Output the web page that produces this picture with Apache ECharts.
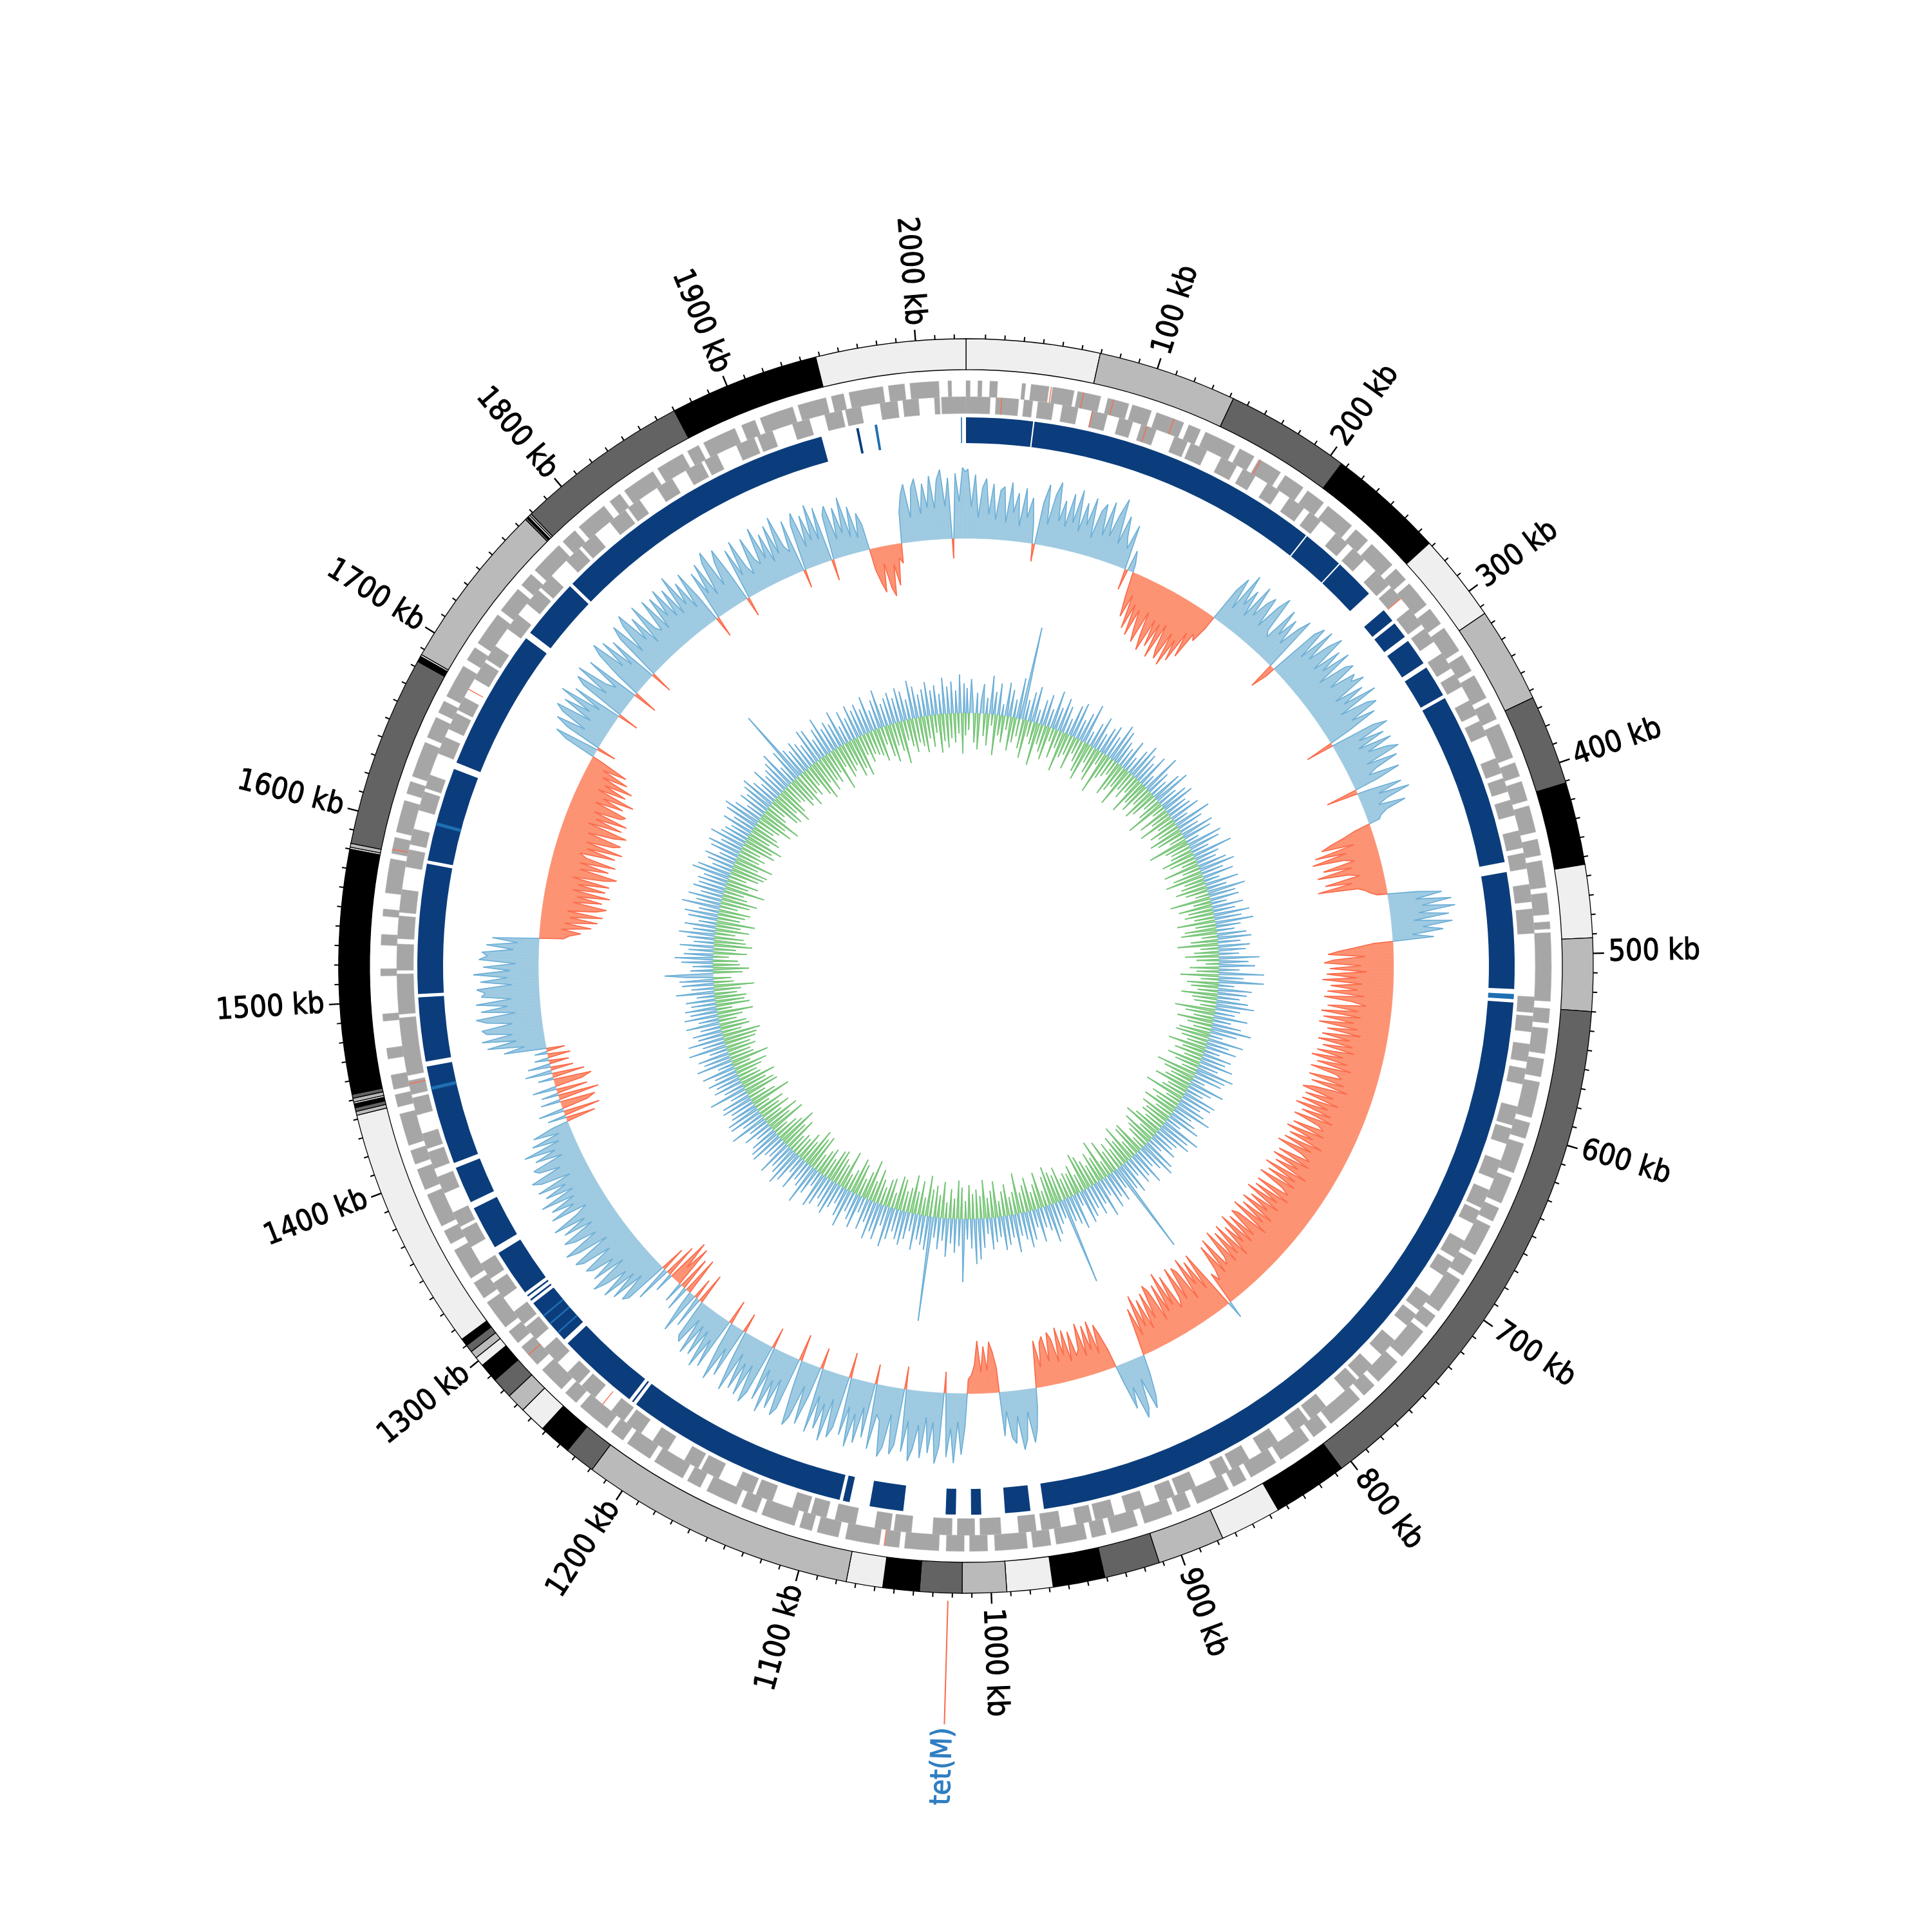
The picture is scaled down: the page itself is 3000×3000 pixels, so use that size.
<!DOCTYPE html>
<html>
<head>
<meta charset="utf-8">
<script src="https://cdn.jsdelivr.net/npm/echarts@6/dist/echarts.min.js"></script>
<style>html,body{margin:0;padding:0;background:#fff}#c{width:3000px;height:3000px}</style>
</head>
<body>
<div id="c"></div>
<script>
// ---------------- DATA ----------------
const GENOME_KB = 2026;
const TICK_KB = [100,200,300,400,500,600,700,800,900,1000,1100,1200,1300,1400,1500,1600,1700,1800,1900,2000];
const TICK_LABELS = ['100 kb','200 kb','300 kb','400 kb','500 kb','600 kb','700 kb','800 kb','900 kb','1000 kb','1100 kb','1200 kb','1300 kb','1400 kb','1500 kb','1600 kb','1700 kb','1800 kb','1900 kb','2000 kb'];
// contig boundaries (kb); contigs shaded in cycling order
const CONTIG_EDGES = [0,69.6,142,207,268,314,364,411,454,492,530,806,845,877,912,941,968,992,1015,1037,1056,1075,1219,1235,1252,1266,1276,1287,1297,1302,1306,1310,1314,1442,1444,1446,1448,1449,1451,1453,1580,1581,1583,1683,1686,1687,1775,1776,1777,1778,1779,1870,1948,2026];
// CDS clusters, forward strand (outer row) and reverse strand (inner row), kb
const GENES_FWD = [[0,2.3],[6.6,8.9],[13.2,17.5],[31,33],[36,46],[48,60],[62,75],[79,91],[93,104],[107,123],[126,133],[136,154],[157,166],[169,183],[186,198],[201,212],[215,232],[235,244],[247,263],[266,274],[277,292],[295,305],[308,323],[326,336],[339,353],[356,366],[369,389],[392,400],[403,414],[417,432],[436,445],[448,463],[466,478],[482,486],[488,526],[530,538],[541,555],[558,568],[571,591],[594,603],[606,623],[626,641],[644,652],[655,673],[676,686],[689,710],[713,721],[724,742],[746,761],[764,772],[775,796],[799,808],[811,830],[833,849],[852,860],[863,882],[886,894],[897,913],[917,932],[935,943],[946,963],[966,976],[979,997],[1001,1011],[1014,1024],[1028,1047],[1050,1058],[1061,1080],[1084,1096],[1099,1106],[1109,1128],[1131,1140],[1143,1161],[1165,1173],[1176,1194],[1197,1212],[1215,1223],[1226,1245],[1248,1256],[1259,1274],[1278,1291],[1294,1302],[1305,1322],[1325,1335],[1338,1356],[1360,1368],[1371,1390],[1393,1405],[1408,1416],[1419,1437],[1441,1448],[1451,1459],[1468,1474],[1489,1493],[1514,1518],[1531,1537],[1547,1551],[1560,1579],[1582,1591],[1594,1612],[1616,1623],[1626,1646],[1649,1661],[1664,1671],[1674,1693],[1697,1705],[1708,1727],[1730,1745],[1748,1756],[1759,1778],[1781,1790],[1793,1811],[1815,1822],[1825,1844],[1847,1863],[1866,1873],[1876,1895],[1899,1907],[1910,1929],[1932,1948],[1951,1958],[1961,1980],[1983,1992],[1995,2011],[2016,2018]];
const GENES_REV = [[2012,2026],[0,13.8],[17,30],[33,38],[41,50],[55,64],[72,81],[88,96],[101,110],[121,129],[131,141],[150,160],[164,172],[180,188],[195,205],[209,217],[228,237],[241,250],[259,270],[272,280],[288,299],[302,311],[319,329],[333,341],[350,359],[363,372],[386,395],[398,406],[411,420],[429,439],[442,451],[460,470],[474,488],[524,533],[535,544],[551,561],[565,574],[587,598],[600,609],[619,630],[637,648],[650,658],[669,680],[683,692],[706,716],[719,727],[738,749],[757,767],[769,778],[792,803],[805,815],[826,837],[845,856],[858,866],[879,890],[892,901],[910,921],[928,939],[941,950],[959,970],[973,983],[993,1005],[1008,1018],[1021,1032],[1044,1054],[1056,1065],[1076,1088],[1093,1102],[1104,1113],[1125,1135],[1137,1147],[1158,1169],[1171,1180],[1191,1201],[1209,1219],[1221,1230],[1242,1252],[1254,1263],[1271,1282],[1289,1298],[1300,1309],[1319,1329],[1332,1342],[1353,1364],[1366,1375],[1387,1397],[1402,1412],[1414,1423],[1434,1444],[1446,1454],[1457,1490],[1492,1515],[1517,1532],[1535,1548],[1550,1563],[1576,1586],[1589,1598],[1609,1620],[1622,1630],[1643,1653],[1658,1668],[1670,1678],[1690,1701],[1703,1712],[1724,1734],[1742,1752],[1754,1763],[1775,1785],[1787,1797],[1808,1819],[1821,1829],[1841,1851],[1860,1870],[1872,1880],[1892,1903],[1905,1914],[1926,1936],[1945,1955],[1957,1966],[1977,1987],[1990,1999],[2008,2011]];
// tRNA / rRNA marks (kb)
const RNA_FWD = [47,65,82,117,170,1058,1285,1584];
const RNA_REV = [20,72,104,280,1236,1452,1683];
// sequence-similarity hits ring (kb)
const HITS_STRONG = [[0,39.6],[40.4,215.5],[216.3,241],[241.8,266],[279,287],[289,299],[302,318],[321,340],[342,445],[451,520],[528,967],[975,990],[1004,1010],[1019,1025],[1050,1070],[1082,1086],[1088,1221],[1223,1224],[1226,1275],[1278,1306],[1308,1309],[1311,1312],[1314,1342],[1346,1372],[1376,1398],[1401,1460],[1463,1501],[1503,1580],[1582,1638],[1642,1726],[1730,1766],[1768,1940],[1961,1962.5]];
const HITS_WEAK = [[523,526],[1283,1284],[1290,1291],[1296,1297],[1446,1448],[1603,1605],[1972,1973.5],[2023,2023.6]];
// GC skew, 2.5 kb windows (relative units, +/-100 = max)
const GC_SKEW = [
98,45,90,30,72,85,35,78,28,70,
75,25,82,40,68,22,76,35,64,30,
-25,60,86,30,74,92,38,68,32,80,
40,88,30,72,42,82,26,66,78,34,
84,36,70,94,30,72,44,28,64,-30,
30,12,-35,-64,-30,-78,-40,-85,-45,-72,
-90,-42,-78,-97,-48,-86,-50,-99,-46,-82,
-95,-52,-100,-58,-88,-40,-76,-36,-44,-20,
50,72,26,84,40,66,28,80,36,62,
74,30,68,86,34,26,78,40,70,32,
64,82,-38,-15,76,90,40,94,46,80,
98,42,84,50,92,36,78,88,44,82,
72,90,38,80,46,94,34,74,86,42,
76,32,-40,64,84,36,72,30,78,40,
68,82,30,74,40,26,70,34,-45,20,
64,28,72,36,22,60,30,20,16,-22,
-40,-62,-76,-30,-88,-44,-94,-50,-36,-82,
-42,-92,-48,-34,-84,-46,-96,-40,-30,-24,
-15,42,76,38,88,46,92,40,82,32,
86,44,72,28,58,-28,-52,-76,-92,-40,
-84,-98,-46,-90,-38,-94,-52,-100,-44,-88,
-50,-92,-40,-96,-56,-36,-90,-46,-98,-42,
-94,-50,-99,-44,-86,-38,-92,-52,-96,-46,
-88,-42,-94,-56,-100,-48,-90,-40,-97,-58,
-50,-96,-44,-90,-36,-84,-99,-52,-92,-42,
-94,-54,-100,-46,-88,-40,-96,-58,-48,-92,
-44,-98,-56,-90,-38,-94,-50,-100,-60,-46,
-92,-42,-96,-54,-88,-36,-99,-48,-90,-44,
-98,-58,-46,-94,-40,-92,-52,-100,-44,-88,
-56,-96,-42,-90,-50,-99,-38,-86,-94,-48,
-90,-44,-98,-52,-84,-36,-94,-46,-88,-40,
-96,-54,-44,-92,-38,-86,-50,-34,-48,25,
-42,-90,-36,-84,-50,-94,-32,-80,-88,-40,
-92,-46,-34,-86,-44,-96,-38,-82,-30,-78,
-88,-40,-80,-28,-74,-36,-84,-26,-68,-22,
28,60,76,30,70,84,36,66,26,-25,
-50,-66,-26,-74,-34,-70,-28,-76,-40,-32,
-68,-26,-72,-38,-78,-30,-64,-74,-34,-70,
-62,-28,-66,-22,28,58,76,32,70,84,
36,74,66,28,62,-35,-58,-72,-32,-66,
-30,-74,-40,-26,-20,48,86,40,98,50,
90,-30,76,100,42,86,36,94,48,82,
100,44,88,-32,80,94,38,86,100,50,
42,92,-28,78,36,88,48,96,40,82,
-36,74,90,36,98,46,84,38,92,-30,
44,86,32,80,94,40,-38,76,88,36,
82,42,92,30,78,-30,72,90,36,84,
38,80,28,88,44,-28,74,34,86,40,
-35,76,36,82,28,70,26,74,22,64,
56,-44,46,-30,62,20,-54,36,-48,30,
-60,-24,-64,28,-48,52,-36,64,72,30,
78,36,86,42,74,92,34,82,44,76,
84,38,80,90,32,76,94,40,72,86,
36,78,42,88,48,30,82,44,76,38,
86,34,74,40,80,28,70,82,36,66,
72,26,64,32,76,22,60,18,54,24,
-42,26,-52,36,-38,-50,28,-58,24,-44,
34,-40,-54,22,-46,38,-32,32,-28,20,
-32,18,-26,60,30,82,40,88,44,80,
86,42,78,92,36,84,46,90,40,82,
76,88,38,82,44,92,40,78,32,84,
72,80,36,74,30,66,-34,-42,-58,-30,
-72,-34,-80,-40,-86,-36,-76,-90,-42,-82,
-46,-92,-38,-84,-44,-88,-34,-80,-96,-42,
-82,-40,-90,-46,-36,-86,-44,-94,-40,-78,
-88,-38,-76,-92,-34,-82,-42,-86,-36,-74,
-80,-32,-72,-40,-84,-28,-68,-34,-74,-26,
-62,-22,-56,-18,46,64,-28,52,72,30,
70,82,30,76,38,88,28,72,-30,66,
80,34,86,42,28,78,-35,36,74,90,
40,82,32,72,-32,68,86,34,78,92,
42,76,28,88,44,36,84,32,80,46,
86,38,78,34,92,42,74,30,82,40,
-30,72,36,80,28,76,90,34,68,84,
38,-28,74,32,82,40,26,78,44,34,
86,38,72,28,80,36,88,42,32,76,
-26,66,82,30,74,36,86,34,78,-30,
64,76,26,70,32,82,24,66,20,54,
36,-30,-50,-64,-24,-60,-72,-28,-58,-20,
-28,44,68,82,34,76,88,38,80,46,
90,44,84,98,46,86,-28,92,52,100,
94];
// GC content deviation from mean, 2.5 kb windows (0.1 % units)
const GC_DEV = [
22,-15,30,8,-26,18,-32,12,26,-20,
14,-28,34,-10,20,-36,28,-18,10,-24,
30,-12,24,-30,16,-22,36,-16,83,-26,
18,-34,26,-14,32,-20,12,-38,22,-18,
28,-24,16,-30,34,-12,20,-26,30,-16,
24,-36,14,-22,28,-18,32,-30,18,-14,
26,-20,36,-28,12,-34,22,-16,30,-24,
16,-30,24,-12,28,-38,20,-22,34,-18,
30,-14,22,-32,18,-26,28,-20,14,-36,
24,-18,32,-24,26,-16,20,-34,30,-22,
12,-28,36,-18,22,-30,16,-24,28,-14,
34,-22,18,-36,26,-12,30,-28,20,-18,
22,-32,28,-16,14,-26,34,-20,24,-30,
18,-24,30,-14,26,-36,12,-22,32,-18,
28,-20,16,-30,36,-24,22,-14,18,-32,
26,-16,32,-26,20,-34,28,-18,14,-22,
30,-28,18,-20,34,-12,24,-36,26,-16,
14,-30,28,-22,20,-26,32,-18,24,-34,
34,-18,22,-28,16,-32,26,-14,30,-24,
20,-36,28,-16,24,-22,18,-30,36,-20,
26,-12,32,-26,18,-20,40,-34,22,-16,
40,-28,14,-24,30,-18,26,-32,20,-22,
28,-20,34,-14,22,-36,18,-26,30,-18,
16,-32,26,-22,36,-16,24,-28,12,-30,
32,-24,20,-18,28,-34,14,-20,26,-26,
22,-16,30,-30,18,-22,34,-14,28,-36,
26,-28,12,-20,32,-24,22,-32,16,-18,
30,-22,28,-36,20,-14,26,-26,34,-20,
18,-30,24,-16,30,-28,14,-22,36,-24,
28,-18,32,-26,22,-34,20,-16,26,-30,
14,-24,30,-20,34,-12,24,-30,18,-28,
32,-16,22,-34,26,-22,16,-28,30,-18,
24,-26,84,-20,18,-32,28,-14,22,-36,
30,-22,16,-28,34,-18,20,-24,28,-30,
20,-34,26,-16,30,-26,12,-20,32,-22,
26,-18,22,-30,78,-24,16,-28,20,-34,
28,-26,34,-14,22,-32,18,-22,30,-16,
16,-30,26,-24,32,-18,24,-36,20,-20,
34,-16,20,-28,26,-22,30,-14,18,-32,
22,-24,28,-18,14,-34,26,-20,36,-26,
40,-22,26,-30,18,-16,56,-28,24,-34,
30,-18,22,-26,34,-14,20,-32,28,-20,
18,-28,93,-24,30,-36,26,-16,22,-30,
32,-20,16,-34,24,-22,30,-18,26,-28,
20,-30,28,-14,36,-26,18,-24,32,-16,
26,-22,34,-30,20,-18,28,-36,14,-24,
30,-16,24,-28,18,-32,34,-20,26,-14,
16,-34,22,-20,30,-24,26,-30,20,-28,
28,-18,32,-26,14,-22,24,-16,36,-32,
22,-28,18,-34,30,-20,16,-26,28,-18,
34,-20,26,-16,22,-30,32,-24,18,-36,
20,-26,30,-22,28,-14,24,-34,16,-22,
26,-32,18,-18,34,-28,20,-20,30,-26,
30,-14,24,-36,22,-24,28,-16,26,-30,
16,-28,34,-22,18,-32,26,-20,22,-18,
28,-24,20,-30,30,-16,14,-34,32,-22,
24,-20,28,-26,16,-22,34,-28,20,-30,
32,-34,22,-18,26,-26,18,-24,30,-16,
18,-22,30,-32,24,-14,28,-30,22,-26,
26,-28,16,-20,34,-24,20,-36,28,-18,
30,-16,24,43,-26,20,-32,18,-24,28,
-22,34,-14,26,-30,22,-20,30,-34,18,
-28,24,-26,32,-18,20,-30,28,-22,16,
-34,26,-20,30,-24,18,-28,34,-16,22,
-26,30,-32,20,-22,28,-18,24,-36,26,
-20,22,-28,34,-16,30,-26,18,-30,24,
-32,28,-22,16,-34,26,-20,30,-24,20,
-18,32,-30,24,-26,22,-34,18,-20,28,
-28,20,-24,30,-18,34,-22,26,-32,16,
-24,26,-36,22,-20,28,-16,32,-28,24,
-30,18,-22,30,-34,20,-26,24,-18,28,
-20,34,-28,16,-24,30,-32,68,-22,26,
-26,22,-18,28,-30,24,-36,20,-22,32,
-32,30,-24,18,-28,26,-20,34,-38,22,
-18,26,-30,22,-26,32,-22,16,-34,28,
-28,20,-36,30,-18,24,-26,28,-20,22,
-22,32,-24,18,-30,26,-16,34,-28,20,
-34,24,-20,28,-26,22,-38,30,-18,26,
-24,18,-30,34,-22,28,-26,20,-32,24,
-20,30,-28,22,-16,26,-34,18,-24,32,
-30,24,-22,28,-26,20,-18,34,-36,26,
-20];
const WINDOW_KB = 2.5;
const ANNOT_KB = [1022.2];
const ANNOT_LABELS = ['tet(M)'];

// ---------------- LAYOUT / STYLE ----------------
const R = {
  ringIn: 926, ringOut: 974, tickMajor: 991, tickMinor: 981, label: 998,
  fwdIn: 884, fwdOut: 909, revIn: 858, revOut: 884,
  hitIn: 812, hitOut: 852,
  skewBase: 664, skewScale: 1.1,
  gcBase: 393, gcScale: 1.75,
  annotIn: 986, annotOut: 1178, annotText: 1183
};
const SHADES = ['#efefef', '#bababa', '#636363', '#000000'];
const FONT = '"DejaVu Sans Condensed", "Liberation Sans Narrow", "DejaVu Sans", sans-serif';

const chart = echarts.init(document.getElementById('c'), null, {renderer: 'canvas', width: 3000, height: 3000});

function sectorEl(params, api, r0, r1, a0, a1, style) {
  const cs = params.coordSys;
  const p0 = api.coord([r1, a0]);
  const p1 = api.coord([r1, a1]);
  const q0 = api.coord([r0, a0]);
  let s = Math.atan2(p0[1] - cs.cy, p0[0] - cs.cx);
  let e = Math.atan2(p1[1] - cs.cy, p1[0] - cs.cx);
  if (e < s - 1e-9) e += Math.PI * 2;
  return {
    type: 'sector',
    shape: {cx: cs.cx, cy: cs.cy, r0: Math.hypot(q0[0] - cs.cx, q0[1] - cs.cy), r: Math.hypot(p0[0] - cs.cx, p0[1] - cs.cy), startAngle: s, endAngle: e, clockwise: true},
    style: style
  };
}

function rangeSeries(data, r0, r1, styleFn, z) {
  return {
    type: 'custom', coordinateSystem: 'polar', silent: true, z: z || 2,
    data: data.map((d, i) => [d[0], d[1], i]),
    renderItem: function (params, api) {
      return sectorEl(params, api, r0, r1, api.value(0), api.value(1), styleFn(api.value(2)));
    }
  };
}

function winCenter(i) {
  const s = i * WINDOW_KB;
  const e = Math.min(s + WINDOW_KB, GENOME_KB);
  return (s + e) / 2;
}

function areaSeries(arr, base, scale, posFill, posLine, negFill, negLine, z) {
  const n = arr.length;
  return {
    type: 'custom', coordinateSystem: 'polar', silent: true, z: z,
    data: arr.map((v, i) => [i, v]),
    renderItem: function (params, api) {
      const i = api.value(0);
      const v0 = api.value(1);
      const v1 = arr[(i + 1) % n];
      const a0 = winCenter(i);
      const a1 = (i === n - 1) ? winCenter(0) + GENOME_KB : winCenter(i + 1);
      const kids = [];
      const pt = (r, a) => { const p = api.coord([r, a]); return [p[0], p[1]]; };
      function piece(aa, va, ab, vb) {
        const pos = (va + vb) >= 0;
        const fill = pos ? posFill : negFill;
        const line = pos ? posLine : negLine;
        const A = pt(base + va * scale, aa), B = pt(base + vb * scale, ab);
        const bA = pt(base, aa), bB = pt(base, ab);
        kids.push({type: 'polygon', shape: {points: [bA, A, B, bB]}, style: {fill: fill, stroke: fill, lineWidth: 0.6}});
        kids.push({type: 'polyline', shape: {points: [A, B]}, style: {stroke: line, lineWidth: 1.6, fill: null}, z2: 5});
      }
      if (v0 * v1 < 0) {
        const t = v0 / (v0 - v1);
        const az = a0 + t * (a1 - a0);
        piece(a0, v0, az, 0);
        piece(az, 0, a1, v1);
      } else {
        piece(a0, v0, a1, v1);
      }
      return {type: 'group', children: kids};
    }
  };
}

const contigData = CONTIG_EDGES.slice(0, -1).map((s, i) => [s, CONTIG_EDGES[i + 1]]);
const minorTicks = [];
for (let k = 10; k < GENOME_KB; k += 10) { if (k % 100 !== 0) minorTicks.push(k); }

function radialText(params, api, r, kb, text, fontPx, color) {
  const cs = params.coordSys;
  const p = api.coord([r, kb]);
  const ang = Math.atan2(p[1] - cs.cy, p[0] - cs.cx);
  const right = p[0] >= cs.cx - 0.5;
  return {
    type: 'text', x: p[0], y: p[1], rotation: right ? -ang : -(ang + Math.PI),
    style: {text: text, font: fontPx + 'px ' + FONT, fill: color, stroke: color, lineWidth: 1.1,
      align: right ? 'left' : 'right', verticalAlign: 'middle', textAlign: right ? 'left' : 'right', textVerticalAlign: 'middle'}
  };
}

const series = [];
// contig ring
series.push(rangeSeries(contigData, R.ringIn, R.ringOut, i => ({fill: SHADES[i % 4], stroke: '#000', lineWidth: 1.3}), 3));
// ticks
series.push({
  type: 'custom', coordinateSystem: 'polar', silent: true, z: 4,
  data: TICK_KB.map(k => [k, 1]).concat(minorTicks.map(k => [k, 0])),
  renderItem: function (params, api) {
    const k = api.value(0), major = api.value(1) === 1;
    const p0 = api.coord([R.ringOut, k]);
    const p1 = api.coord([major ? R.tickMajor : R.tickMinor, k]);
    return {type: 'line', shape: {x1: p0[0], y1: p0[1], x2: p1[0], y2: p1[1]}, style: {stroke: '#000', lineWidth: major ? 2.4 : 2}};
  }
});
// tick labels
series.push({
  type: 'custom', coordinateSystem: 'polar', silent: true, z: 4,
  data: TICK_KB.map((k, i) => [k, i]),
  renderItem: function (params, api) {
    return radialText(params, api, R.label, api.value(0), TICK_LABELS[api.value(1)], 46, '#000');
  }
});
// genes
const GENE_STYLE = () => ({fill: '#a6a6a6', stroke: '#b3b3b3', lineWidth: 0.5});
series.push(rangeSeries(GENES_FWD, R.fwdIn, R.fwdOut, GENE_STYLE, 3));
series.push(rangeSeries(GENES_REV, R.revIn, R.revOut, GENE_STYLE, 3));
series.push(rangeSeries(RNA_FWD.map(k => [k, k + 0.5]), R.fwdIn, R.fwdOut, () => ({fill: '#fb6a4a'}), 4));
series.push(rangeSeries(RNA_REV.map(k => [k, k + 0.5]), R.revIn, R.revOut, () => ({fill: '#fb6a4a'}), 4));
// similarity ring
series.push(rangeSeries(HITS_STRONG, R.hitIn, R.hitOut, () => ({fill: '#0b3d7c'}), 3));
series.push(rangeSeries(HITS_WEAK, R.hitIn, R.hitOut, () => ({fill: '#1f6fb2'}), 3));
// GC skew
series.push(areaSeries(GC_SKEW, R.skewBase, R.skewScale, '#9ecae1', '#6baed6', '#fc9272', '#fb6a4a', 2));
// GC content
series.push(areaSeries(GC_DEV, R.gcBase, R.gcScale, '#a9d0e6', '#6baed6', '#a6dba0', '#74c476', 2));
// annotation
series.push({
  type: 'custom', coordinateSystem: 'polar', silent: true, z: 5,
  data: ANNOT_KB.map((k, i) => [k, i]),
  renderItem: function (params, api) {
    const k = api.value(0);
    const a = api.coord([R.annotIn, k]), b = api.coord([R.annotOut, k]);
    return {type: 'group', children: [
      {type: 'line', shape: {x1: a[0], y1: a[1], x2: b[0], y2: b[1]}, style: {stroke: '#fb6a4a', lineWidth: 2}},
      radialText(params, api, R.annotText, k, ANNOT_LABELS[api.value(1)], 44, '#2f7ec1')
    ]};
  }
});

chart.setOption({
  animation: false,
  backgroundColor: '#ffffff',
  polar: {center: ['50%', '50%'], radius: [0, 974]},
  angleAxis: {type: 'value', min: 0, max: GENOME_KB, startAngle: 90, clockwise: true, show: false},
  radiusAxis: {type: 'value', min: 0, max: 974, show: false},
  series: series
});
</script>
</body>
</html>
